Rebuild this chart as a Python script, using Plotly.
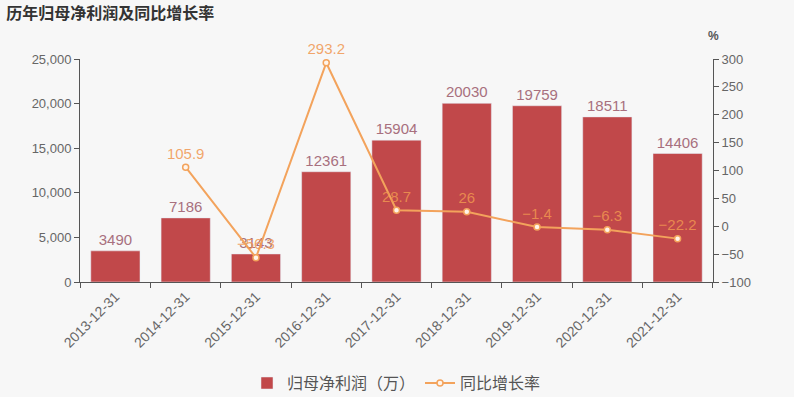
import plotly.graph_objects as go

dates = ["2013-12-31", "2014-12-31", "2015-12-31", "2016-12-31", "2017-12-31",
         "2018-12-31", "2019-12-31", "2020-12-31", "2021-12-31"]
profit = [3490, 7186, 3143, 12361, 15904, 20030, 19759, 18511, 14406]
growth = [None, 105.9, -56.3, 293.2, 28.7, 26, -1.4, -6.3, -22.2]
growth_text = ["", "105.9", "−56.3", "293.2", "28.7", "26", "−1.4", "−6.3", "−22.2"]

bar_color = "#c1484a"
line_color = "#f3a35c"
grid_font = "Liberation Sans, Arial, sans-serif"
cjk_font = "Noto Sans CJK SC, sans-serif"

fig = go.Figure()
fig.add_trace(go.Bar(
    x=dates, y=profit, name="归母净利润（万）",
    marker=dict(color=bar_color), width=0.7,
    text=[str(v) for v in profit], textposition="outside",
    textfont=dict(color="#a8707e", size=15, family=grid_font),
    cliponaxis=False,
))
fig.add_trace(go.Scatter(
    x=dates, y=growth, name="同比增长率", yaxis="y2",
    mode="lines+markers+text",
    line=dict(color=line_color, width=2),
    marker=dict(size=6, color="#fff4ea", line=dict(color=line_color, width=1.5)),
    text=growth_text, textposition="top center",
    textfont=dict(color="rgba(240,150,80,0.85)", size=15, family=grid_font),
    cliponaxis=False,
))

fig.update_layout(
    width=794, height=397,
    paper_bgcolor="#f7f7f7", plot_bgcolor="#f7f7f7",
    margin=dict(l=80, r=81, t=59, b=115),
    title=dict(text="<b>历年归母净利润及同比增长率</b>", x=0.008, xanchor="left", y=0.98, yanchor="top",
               font=dict(family=cjk_font, size=16, color="#333333")),
    showlegend=True,
    legend=dict(orientation="h", x=0.5, xanchor="center", yref="container", y=0.035, yanchor="middle",
                font=dict(family=cjk_font, size=16, color="#555555"),
                bgcolor="rgba(0,0,0,0)"),
    bargap=0.3,
    xaxis=dict(type="category", tickangle=-45, tickson="boundaries", automargin=False,
               ticks="outside", ticklen=5, tickcolor="#555", showline=True, linecolor="#555",
               linewidth=1, showgrid=False,
               tickfont=dict(family=grid_font, size=14, color="#666666")),
    yaxis=dict(range=[0, 25000], dtick=5000, tickformat=",", showgrid=False, zeroline=False,
               automargin=False,
               showline=True, linecolor="#555", ticks="outside", ticklen=5, tickcolor="#555",
               tickfont=dict(family=grid_font, size=13, color="#666666")),
    yaxis2=dict(range=[-100, 300], dtick=50, overlaying="y", side="right", showgrid=False,
                automargin=False,
                zeroline=False, showline=True, linecolor="#555", ticks="outside", ticklen=5,
                tickcolor="#555", tickfont=dict(family=grid_font, size=13, color="#666666")),
    annotations=[dict(text="<b>%</b>", xref="paper", yref="paper", x=1.0, y=1.0, yshift=14,
                      xanchor="center", yanchor="bottom", showarrow=False,
                      font=dict(family=grid_font, size=12, color="#555555"))],
)

fig.write_html("out.html", config={"displayModeBar": False},
               post_script="document.body.style.margin='0';document.body.style.background='#f7f7f7';")
